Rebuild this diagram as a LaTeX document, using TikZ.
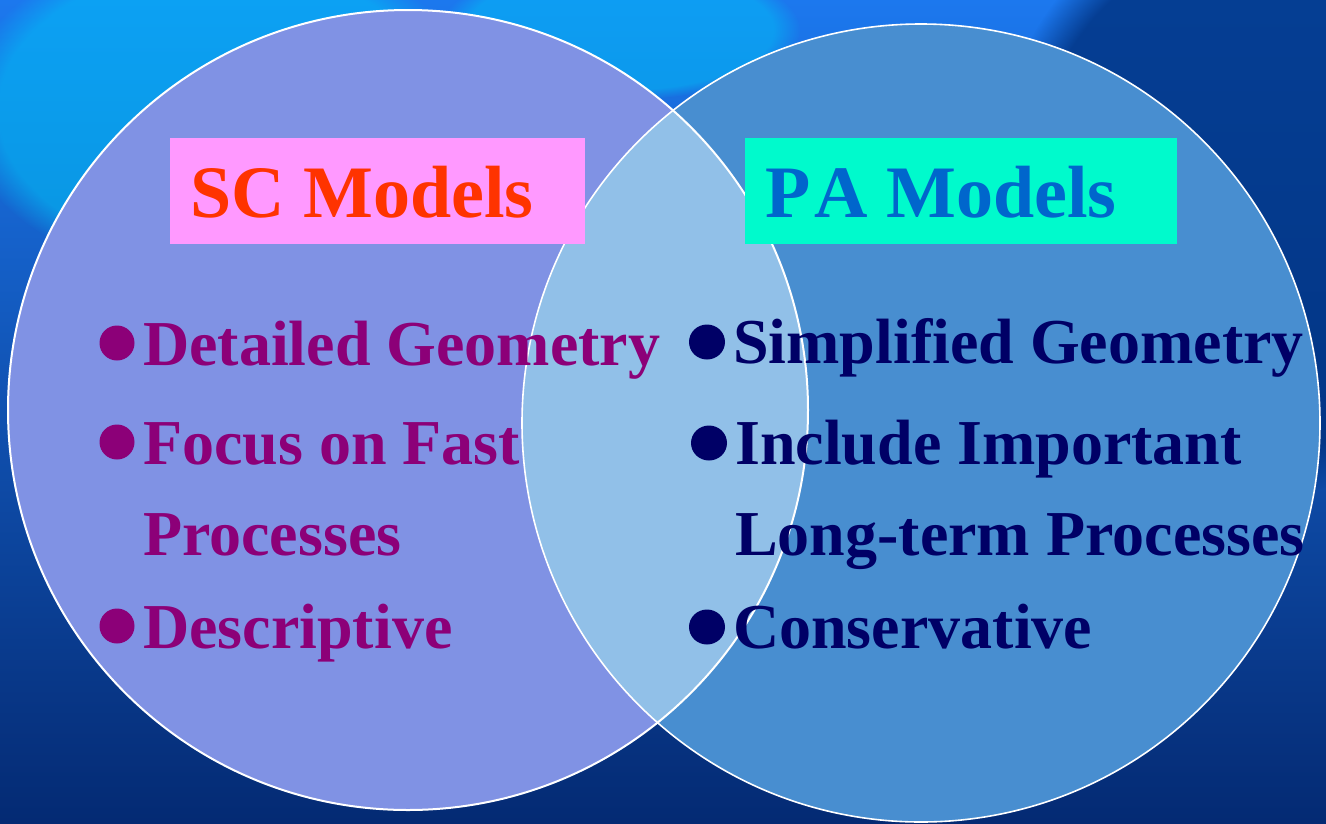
\documentclass[tikz,border=0pt]{standalone}
\usepackage{fontspec}
\setmainfont{Liberation Serif}
\usetikzlibrary{fadings}
\definecolor{bgtop}{RGB}{28,120,238}
\definecolor{bgbot}{RGB}{4,42,115}
\definecolor{bgcyan}{RGB}{0,195,248}
\definecolor{bgdark}{RGB}{0,48,125}
\definecolor{leftfill}{RGB}{128,146,228}
\definecolor{rightfill}{RGB}{72,142,208}
\definecolor{midfill}{RGB}{145,192,232}
\definecolor{pinkbox}{RGB}{255,153,255}
\definecolor{cyanbox}{RGB}{0,250,204}
\definecolor{scred}{RGB}{255,51,0}
\definecolor{pablue}{RGB}{0,102,204}
\definecolor{leftitem}{RGB}{140,0,120}
\definecolor{rightitem}{RGB}{0,0,102}
\tikzset{
  titlebox/.style={rectangle, inner sep=0, minimum width=415pt, minimum height=106pt, anchor=north west},
  titletext/.style={inner sep=0, anchor=base west, font=\fontsize{74}{80}\selectfont\bfseries},
  itemtext/.style={inner sep=0, anchor=base west, font=\fontsize{64}{70}\selectfont\bfseries},
  ring/.style={draw=white, line width=2pt}
}
\begin{document}
\begin{tikzpicture}[x=1pt,y=-1pt]
\useasboundingbox (0,0) rectangle (1326,823);
% background
\shade[top color=bgtop, bottom color=bgbot] (0,0) rectangle (1326,823);
\fill[bgcyan, fill opacity=0.55, path fading=circle with fuzzy edge 15 percent] (220,110) ellipse (260pt and 170pt);
\fill[bgcyan, fill opacity=0.5, path fading=circle with fuzzy edge 15 percent] (620,30) ellipse (180pt and 70pt);
\fill[bgdark, fill opacity=0.8, path fading=circle with fuzzy edge 15 percent] (1250,200) ellipse (260pt and 300pt);
% circles
\coordinate (cl) at (408,410);
\coordinate (cr) at (921,423);
\fill[leftfill] (cl) circle (400pt);
\fill[rightfill] (cr) circle (399pt);
\begin{scope}
  \clip (cl) circle (400pt);
  \fill[midfill] (cr) circle (399pt);
\end{scope}
\draw[ring] (cl) circle (400pt);
\draw[ring, line width=1.6pt] (cr) circle (399pt);
% title boxes
\node[titlebox, fill=pinkbox] (scbox) at (170,138) {};
\node[titletext, text=scred] (sct) at (190,217) {SC Models};
\node[titlebox, fill=cyanbox, minimum width=432pt] (pabox) at (745,138) {};
\node[titletext, text=pablue] (pat) at (765,217) {P\kern4pt A Models};
% left items
\node[itemtext, text=leftitem] (l1) at (143,365) {Detailed Geometry};
\node[itemtext, text=leftitem] (l2) at (143,464) {Focus on Fast};
\node[itemtext, text=leftitem] (l3) at (143,555) {Processes};
\node[itemtext, text=leftitem] (l4) at (143,648) {Descriptive};
\foreach \n in {l1,l2,l4}{
  \fill[leftitem] (\n.base west) ++(-26,-22) ellipse (17.5pt and 17.5pt);
}
% right items
\node[itemtext, text=rightitem] (r1) at (733,363) {Simplified Geometry};
\node[itemtext, text=rightitem] (r2) at (735,464) {Include Important};
\node[itemtext, text=rightitem] (r3) at (735,555) {Long-term Processes};
\node[itemtext, text=rightitem] (r4) at (733,648) {Conservative};
\foreach \n in {r1,r2,r4}{
  \fill[rightitem] (\n.base west) ++(-26,-21) ellipse (18pt and 17.5pt);
}
\end{tikzpicture}
\end{document}
